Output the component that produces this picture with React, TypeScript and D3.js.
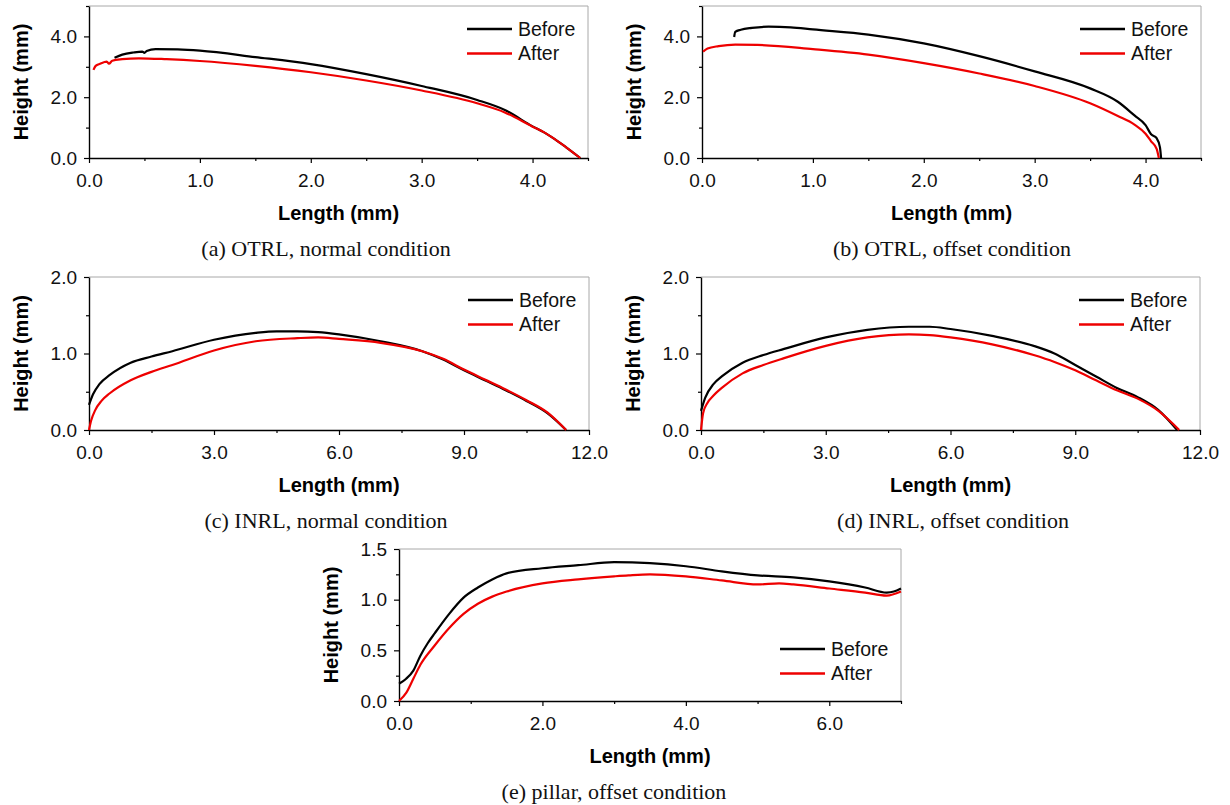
import React, { useRef, useEffect } from 'react';
import * as d3 from 'd3';

type Pt = [number, number];

// (a) OTRL, normal condition
const otrlNormalBefore: Pt[] = [[0.23,3.3],[0.3,3.4],[0.4,3.47],[0.48,3.5],[0.5,3.46],[0.52,3.52],[0.6,3.58],[0.8,3.57],[1.0,3.53],[1.5,3.32],[2.0,3.09],[2.5,2.76],[3.0,2.37],[3.5,1.91],[3.75,1.58],[4.0,1.04],[4.1,0.85],[4.2,0.62],[4.3,0.36],[4.43,0]];
const otrlNormalAfter: Pt[] = [[0.04,2.9],[0.06,3.03],[0.1,3.1],[0.16,3.17],[0.18,3.1],[0.21,3.2],[0.3,3.25],[0.45,3.28],[0.7,3.25],[1.0,3.19],[1.5,3.03],[2.0,2.82],[2.5,2.55],[3.0,2.22],[3.5,1.8],[3.75,1.5],[4.0,1.03],[4.1,0.85],[4.2,0.62],[4.3,0.36],[4.43,0]];

// (b) OTRL, offset condition
const otrlOffsetBefore: Pt[] = [[0.29,3.98],[0.3,4.15],[0.35,4.22],[0.45,4.28],[0.6,4.32],[0.8,4.3],[1.0,4.23],[1.5,4.06],[2.0,3.77],[2.5,3.35],[3.0,2.85],[3.5,2.29],[3.75,1.85],[3.9,1.4],[4.0,1.08],[4.05,0.78],[4.1,0.65],[4.13,0.35],[4.14,0]];
const otrlOffsetAfter: Pt[] = [[0.01,3.5],[0.05,3.6],[0.15,3.68],[0.3,3.73],[0.5,3.72],[1.0,3.58],[1.5,3.4],[2.0,3.12],[2.5,2.78],[3.0,2.37],[3.5,1.8],[3.75,1.38],[3.9,1.1],[4.0,0.8],[4.05,0.55],[4.1,0.3],[4.12,0]];

// (c) INRL, normal condition
const inrlNormalBefore: Pt[] = [[0,0.33],[0.1,0.47],[0.25,0.6],[0.5,0.72],[1.0,0.88],[1.5,0.96],[2.0,1.03],[3.0,1.18],[4.0,1.27],[4.5,1.29],[5.0,1.29],[5.5,1.28],[6.0,1.25],[7.0,1.16],[8.0,1.03],[8.5,0.92],[9.0,0.78],[9.5,0.65],[10.0,0.52],[10.5,0.38],[11.0,0.22],[11.45,0]];
const inrlNormalAfter: Pt[] = [[0,0],[0.05,0.12],[0.15,0.26],[0.3,0.38],[0.5,0.48],[1.0,0.65],[1.5,0.76],[2.0,0.85],[3.0,1.04],[4.0,1.16],[5.0,1.2],[5.5,1.21],[6.0,1.19],[7.0,1.14],[8.0,1.03],[8.5,0.93],[9.0,0.79],[9.5,0.66],[10.0,0.53],[10.5,0.39],[11.0,0.23],[11.45,0]];

// (d) INRL, offset condition
const inrlOffsetBefore: Pt[] = [[0,0.25],[0.1,0.42],[0.3,0.6],[0.5,0.7],[1.0,0.88],[1.5,0.98],[2.0,1.06],[3.0,1.21],[4.0,1.31],[5.0,1.35],[5.5,1.35],[6.0,1.32],[7.0,1.23],[8.0,1.1],[8.5,1.0],[9.0,0.85],[9.5,0.7],[10.0,0.55],[10.5,0.43],[11.0,0.26],[11.45,0]];
const inrlOffsetAfter: Pt[] = [[0,0],[0.05,0.22],[0.15,0.35],[0.3,0.45],[0.5,0.55],[1.0,0.74],[1.5,0.85],[2.0,0.94],[3.0,1.1],[4.0,1.21],[5.0,1.25],[5.5,1.24],[6.0,1.21],[7.0,1.12],[8.0,0.98],[8.5,0.89],[9.0,0.78],[9.5,0.65],[10.0,0.52],[10.5,0.41],[11.0,0.25],[11.5,0]];

// (e) pillar, offset condition
const pillarBefore: Pt[] = [[0,0.17],[0.1,0.22],[0.2,0.3],[0.3,0.45],[0.4,0.57],[0.5,0.67],[0.7,0.86],[0.9,1.02],[1.1,1.12],[1.3,1.2],[1.5,1.26],[2.0,1.31],[2.5,1.34],[3.0,1.37],[3.5,1.36],[4.0,1.33],[4.5,1.28],[5.0,1.24],[5.5,1.22],[6.0,1.18],[6.5,1.12],[6.8,1.07],[6.9,1.08],[7.0,1.11]];
const pillarAfter: Pt[] = [[0,0],[0.1,0.08],[0.2,0.22],[0.3,0.36],[0.5,0.55],[0.7,0.72],[0.9,0.86],[1.1,0.96],[1.3,1.03],[1.5,1.08],[2.0,1.16],[2.5,1.2],[3.0,1.23],[3.2,1.24],[3.5,1.25],[4.0,1.23],[4.5,1.19],[5.0,1.15],[5.3,1.16],[5.5,1.15],[6.0,1.11],[6.5,1.07],[6.8,1.04],[7.0,1.08]];

const seriesNames = ['Before', 'After'];
const seriesColors = ['#000000', '#ee0000'];

const captions = [
  '(a) OTRL, normal condition',
  '(b) OTRL, offset condition',
  '(c) INRL, normal condition',
  '(d) INRL, offset condition',
  '(e) pillar, offset condition',
];

const xTicksOTRL = [0, 1, 2, 3, 4];
const xTicksINRL = [0, 3, 6, 9, 12];
const xTicksPillar = [0, 2, 4, 6];
const yTicksOTRL = [0, 2, 4];
const yTicksINRL = [0, 1, 2];
const yTicksPillar = [0, 0.5, 1, 1.5];

const panels = [
  { left: 89, right: 588, top: 6, bottom: 158, xMax: 4.5, yMax: 5, xTicks: xTicksOTRL, xMinor: 0.5, yTicks: yTicksOTRL, yMinor: 1, data: [otrlNormalBefore, otrlNormalAfter], caption: captions[0], capX: 326, legendBottom: false },
  { left: 702, right: 1201, top: 6, bottom: 158, xMax: 4.5, yMax: 5, xTicks: xTicksOTRL, xMinor: 0.5, yTicks: yTicksOTRL, yMinor: 1, data: [otrlOffsetBefore, otrlOffsetAfter], caption: captions[1], capX: 952, legendBottom: false },
  { left: 89, right: 589, top: 277, bottom: 430, xMax: 12, yMax: 2, xTicks: xTicksINRL, xMinor: 1.5, yTicks: yTicksINRL, yMinor: 0.5, data: [inrlNormalBefore, inrlNormalAfter], caption: captions[2], capX: 326, legendBottom: false },
  { left: 701, right: 1200, top: 277, bottom: 430, xMax: 12, yMax: 2, xTicks: xTicksINRL, xMinor: 1.5, yTicks: yTicksINRL, yMinor: 0.5, data: [inrlOffsetBefore, inrlOffsetAfter], caption: captions[3], capX: 953, legendBottom: false },
  { left: 399, right: 901, top: 549, bottom: 701, xMax: 7, yMax: 1.5, xTicks: xTicksPillar, xMinor: 1, yTicks: yTicksPillar, yMinor: 0.25, data: [pillarBefore, pillarAfter], caption: captions[4], capX: 614, legendBottom: true },
];

const SANS = 'Liberation Sans, Arial, sans-serif';
const SERIF = 'Liberation Serif, Times New Roman, serif';

const App = () => {
  const svgRef = useRef<SVGSVGElement>(null);

  useEffect(() => {
    const svg = d3.select(svgRef.current);
    svg.selectAll('*').remove();
    const fmt = d3.format('.1f');

    panels.forEach(p => {
      const x = d3.scaleLinear().domain([0, p.xMax]).range([p.left, p.right]);
      const y = d3.scaleLinear().domain([0, p.yMax]).range([p.bottom, p.top]);
      const g = svg.append('g');

      // light frame on top and right
      g.append('path')
        .attr('d', `M${p.left},${p.top}H${p.right}V${p.bottom}`)
        .attr('fill', 'none')
        .attr('stroke', '#a8a8a8')
        .attr('stroke-width', 1);

      const xMinors = d3.range(0, p.xMax + 1e-9, p.xMinor).filter(v => !p.xTicks.some(t => Math.abs(t - v) < 1e-9));
      const yMinors = d3.range(0, p.yMax + 1e-9, p.yMinor).filter(v => !p.yTicks.some(t => Math.abs(t - v) < 1e-9));

      // minor ticks
      const xm = g.append('g').attr('transform', `translate(0,${p.bottom})`)
        .call(d3.axisBottom(x).tickValues(xMinors).tickSize(3).tickSizeOuter(0).tickFormat(() => ''));
      const ym = g.append('g').attr('transform', `translate(${p.left},0)`)
        .call(d3.axisLeft(y).tickValues(yMinors).tickSize(3).tickSizeOuter(0).tickFormat(() => ''));
      [xm, ym].forEach(a => a.select('.domain').remove());

      // major ticks
      const xa = g.append('g').attr('transform', `translate(0,${p.bottom})`)
        .call(d3.axisBottom(x).tickValues(p.xTicks).tickSize(5).tickSizeOuter(0).tickPadding(10.5).tickFormat(d => fmt(d as number)));
      const ya = g.append('g').attr('transform', `translate(${p.left},0)`)
        .call(d3.axisLeft(y).tickValues(p.yTicks).tickSize(5).tickSizeOuter(0).tickPadding(7).tickFormat(d => fmt(d as number)));
      [xa, ya, xm, ym].forEach(a => {
        a.attr('font-family', SANS).attr('font-size', 19);
        a.selectAll('line').attr('stroke', '#000').attr('stroke-width', 1.2);
        a.selectAll('.domain').attr('stroke', '#000').attr('stroke-width', 1.4);
        a.selectAll('text').attr('fill', '#111');
      });

      // curves
      const line = d3.line<Pt>().x(d => x(d[0])).y(d => y(d[1])).curve(d3.curveMonotoneX);
      p.data.forEach((s, i) => {
        g.append('path')
          .datum(s)
          .attr('d', line)
          .attr('fill', 'none')
          .attr('stroke', seriesColors[i])
          .attr('stroke-width', 2.2)
          .attr('stroke-linejoin', 'round');
      });

      // legend
      const ly0 = p.legendBottom ? p.bottom - 52 : p.top + 23;
      seriesNames.forEach((name, i) => {
        const ly = ly0 + i * 24.5;
        g.append('line')
          .attr('x1', p.right - 121).attr('x2', p.right - 76)
          .attr('y1', ly).attr('y2', ly)
          .attr('stroke', seriesColors[i])
          .attr('stroke-width', 2.4);
        g.append('text')
          .attr('x', p.right - 70)
          .attr('y', ly)
          .attr('dy', '0.35em')
          .attr('font-family', SANS)
          .attr('font-size', 19.5)
          .attr('fill', '#111')
          .text(name);
      });

      // axis titles
      g.append('text')
        .attr('x', (p.left + p.right) / 2)
        .attr('y', p.bottom + 62)
        .attr('text-anchor', 'middle')
        .attr('font-family', SANS)
        .attr('font-weight', 'bold')
        .attr('font-size', 20)
        .text('Length (mm)');
      g.append('text')
        .attr('transform', `translate(${p.left - 68},${(p.top + p.bottom) / 2}) rotate(-90)`)
        .attr('text-anchor', 'middle')
        .attr('dy', '0.35em')
        .attr('font-family', SANS)
        .attr('font-weight', 'bold')
        .attr('font-size', 20)
        .text('Height (mm)');

      // caption
      g.append('text')
        .attr('x', p.capX)
        .attr('y', p.bottom + 98)
        .attr('text-anchor', 'middle')
        .attr('font-family', SERIF)
        .attr('font-size', 22)
        .attr('fill', '#111')
        .text(p.caption);
    });
  }, []);

  return (
    <svg ref={svgRef} width={1230} height={805}
      style={{ position: 'absolute', left: 0, top: 0, background: '#fff' }} />
  );
};

export default App;
